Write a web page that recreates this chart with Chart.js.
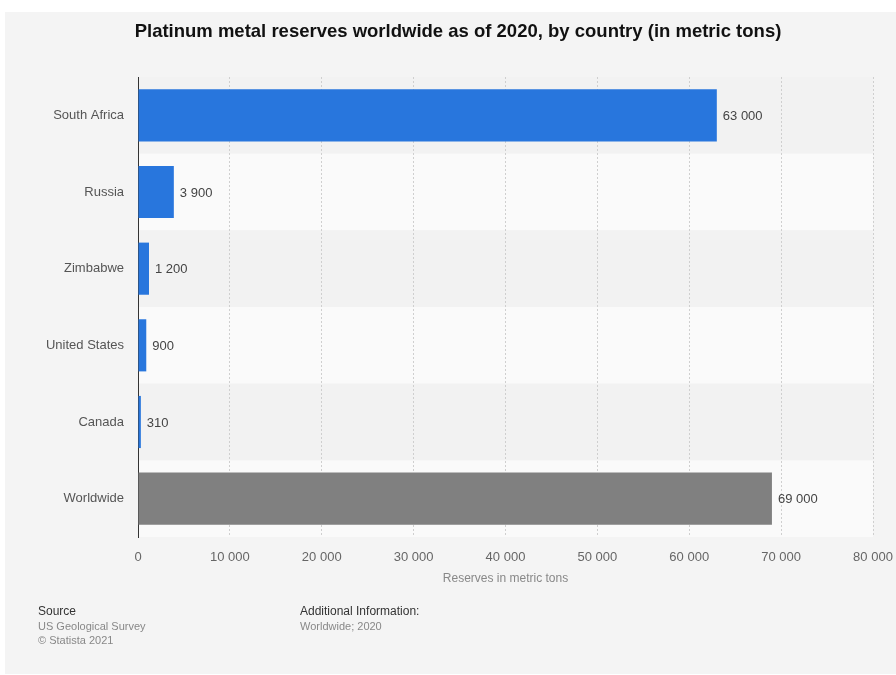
<!DOCTYPE html>
<html><head><meta charset="utf-8">
<script src="https://cdn.jsdelivr.net/npm/chart.js@4/dist/chart.umd.min.js"></script>
<style>html,body{margin:0;padding:0;background:#fff;}#wrap{width:896px;height:675px;}</style>
</head><body><div id="wrap"><canvas id="c" width="896" height="675"></canvas></div>
<script>
const categories = ["South Africa","Russia","Zimbabwe","United States","Canada","Worldwide"];
const reserves = [63000, 3900, 1200, 900, 310, 69000];
const barColors = ["#2876dd","#2876dd","#2876dd","#2876dd","#2876dd","#808080"];
const xTicks = [0,10000,20000,30000,40000,50000,60000,70000,80000];
const titleText = "Platinum metal reserves worldwide as of 2020, by country (in metric tons)";
const axisTitle = "Reserves in metric tons";

const fmt = v => String(v).replace(/\B(?=(\d{3})+(?!\d))/g, " ");
const FONT = "'Liberation Sans', Arial, sans-serif";

const decor = {
  id: 'decor',
  beforeDraw(chart) {
    const ctx = chart.ctx, ca = chart.chartArea, y = chart.scales.y;
    ctx.save();
    ctx.fillStyle = '#ffffff'; ctx.fillRect(0,0,chart.width,chart.height);
    ctx.fillStyle = '#f4f4f4'; ctx.fillRect(5,12,chart.width-5,662);
    const n = categories.length;
    const h = (ca.bottom - ca.top) / n;
    for (let i = 0; i < n; i++) {
      const c = y.getPixelForValue(i);
      ctx.fillStyle = (i % 2 === 0) ? '#f2f2f2' : '#fafafa';
      ctx.fillRect(ca.left, c - h/2, ca.right - ca.left, h);
    }
    ctx.fillStyle = '#111';
    ctx.font = "bold 18.5px " + FONT;
    ctx.textAlign = 'center'; ctx.textBaseline = 'middle';
    ctx.fillText(titleText, 458, 32);
    ctx.fillStyle = '#888';
    ctx.font = "12px " + FONT;
    ctx.fillText(axisTitle, (ca.left + ca.right)/2, 579);
    ctx.textAlign = 'left';
    ctx.fillStyle = '#333'; ctx.font = "12px " + FONT;
    ctx.fillText("Source", 38, 612);
    ctx.fillText("Additional Information:", 300, 612);
    ctx.fillStyle = '#888'; ctx.font = "11px " + FONT;
    ctx.fillText("US Geological Survey", 38, 627);
    ctx.fillText("\u00A9 Statista 2021", 38, 641);
    ctx.fillText("Worldwide; 2020", 300, 627);
    ctx.restore();
  },
  afterDatasetsDraw(chart) {
    const ctx = chart.ctx, meta = chart.getDatasetMeta(0);
    ctx.save();
    ctx.fillStyle = '#444';
    ctx.font = "13px " + FONT;
    ctx.textAlign = 'left'; ctx.textBaseline = 'middle';
    meta.data.forEach((bar, i) => {
      ctx.fillText(fmt(reserves[i]), bar.x + 6, bar.y + 1);
    });
    ctx.restore();
  }
};

new Chart(document.getElementById('c'), {
  type: 'bar',
  data: {
    labels: categories,
    datasets: [{
      data: reserves,
      backgroundColor: barColors,
      borderWidth: 0,
      categoryPercentage: 1,
      barPercentage: 0.68
    }]
  },
  options: {
    indexAxis: 'y',
    responsive: false,
    animation: false,
    devicePixelRatio: 1,
    layout: { padding: { top: 77, right: 23, left: 0, bottom: 0 } },
    plugins: { legend: { display: false }, tooltip: { enabled: false } },
    scales: {
      x: {
        min: 0, max: 80000,
        afterBuildTicks(s) { s.ticks = xTicks.map(v => ({ value: v })); },
        afterFit(s) { s.height = 675 - 537; s.paddingLeft = 0; s.paddingRight = 0; },
        grid: { color: '#cfcfcf', drawTicks: false, tickBorderDash: [2,2] },
        border: { display: false, dash: [2,2] },
        ticks: { color: '#666', padding: 13, font: { family: FONT, size: 13 }, callback: v => fmt(v) }
      },
      y: {
        afterFit(s) { s.width = 138; s.paddingTop = 0; s.paddingBottom = 0; },
        grid: { display: false, drawTicks: false },
        border: { display: true, color: '#333', width: 1 },
        ticks: { color: '#555', padding: 14, font: { family: FONT, size: 13 } }
      }
    }
  },
  plugins: [decor]
});
</script></body></html>
